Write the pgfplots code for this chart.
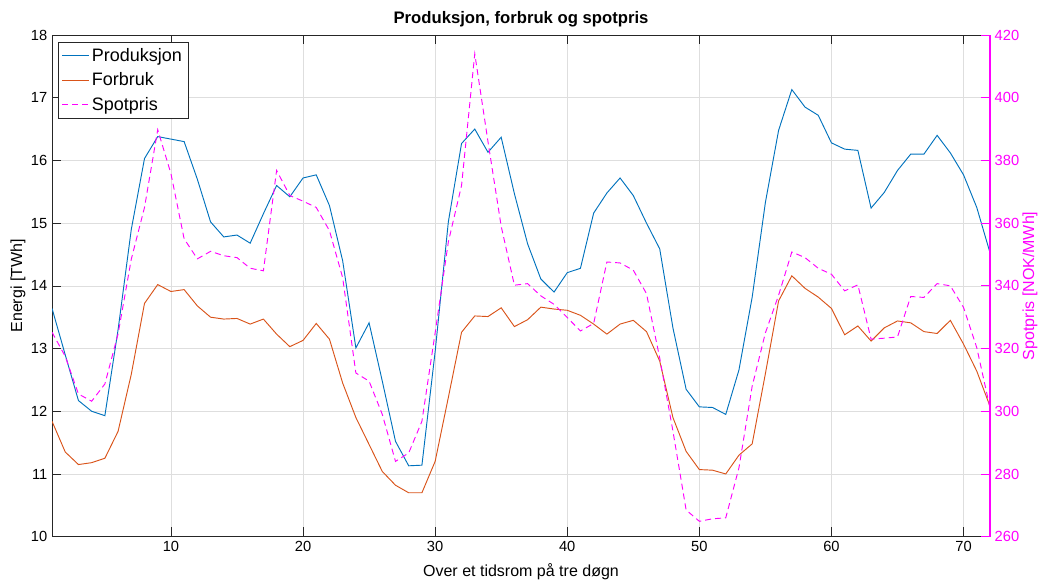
\documentclass[border=0pt]{standalone}
\usepackage{fontspec}
\setmainfont{Liberation Sans}
\usepackage{pgfplots}
\usepackage{pgfplotstable}
\pgfplotsset{compat=1.18}

\definecolor{prodblue}{rgb}{0,0.447,0.741}
\definecolor{forbrukred}{rgb}{0.850,0.325,0.098}
\definecolor{spotmag}{rgb}{1,0,1}
\definecolor{axgray}{rgb}{0.15,0.15,0.15}

% time step, production and consumption [TWh]
\pgfplotstableread{
x prod forbruk
1 13.64 11.84
2 12.90 11.35
3 12.17 11.15
4 12.00 11.18
5 11.93 11.25
6 13.30 11.68
7 14.90 12.59
8 16.03 13.72
9 16.38 14.02
10 16.34 13.91
11 16.30 13.94
12 15.70 13.68
13 15.02 13.50
14 14.78 13.47
15 14.81 13.48
16 14.68 13.39
17 15.15 13.47
18 15.60 13.23
19 15.42 13.03
20 15.72 13.13
21 15.77 13.40
22 15.28 13.15
23 14.40 12.45
24 13.01 11.90
25 13.41 11.47
26 12.48 11.04
27 11.52 10.82
28 11.13 10.70
29 11.14 10.70
30 12.95 11.20
31 15.02 12.22
32 16.27 13.26
33 16.50 13.52
34 16.13 13.51
35 16.37 13.65
36 15.47 13.35
37 14.67 13.46
38 14.11 13.66
39 13.90 13.63
40 14.21 13.61
41 14.28 13.53
42 15.16 13.39
43 15.48 13.23
44 15.72 13.39
45 15.44 13.45
46 15.00 13.27
47 14.59 12.80
48 13.33 11.90
49 12.35 11.36
50 12.07 11.07
51 12.06 11.06
52 11.95 11.00
53 12.66 11.30
54 13.82 11.48
55 15.33 12.60
56 16.48 13.76
57 17.13 14.16
58 16.85 13.96
59 16.72 13.82
60 16.28 13.64
61 16.18 13.22
62 16.16 13.36
63 15.24 13.12
64 15.49 13.33
65 15.84 13.44
66 16.10 13.41
67 16.10 13.27
68 16.40 13.24
69 16.12 13.45
70 15.77 13.07
71 15.25 12.64
72 14.53 12.08
}\energi

% spot price [NOK/MWh]
\pgfplotstableread{
x spot
1 325.2
2 317.5
3 305.5
4 303.2
5 308.7
6 324.7
7 348.5
8 365.0
9 389.8
10 375.8
11 355.0
12 348.6
13 351.0
14 349.6
15 349.0
16 345.6
17 344.8
18 376.8
19 368.8
20 367.0
21 365.0
22 357.6
23 342.6
24 312.2
25 309.6
26 299.0
27 284.0
28 286.7
29 296.8
30 325.0
31 354.0
32 372.0
33 414.0
34 386.0
35 359.0
36 340.2
37 340.7
38 336.8
39 334.1
40 329.9
41 325.6
42 328.0
43 347.6
44 347.3
45 345.0
46 337.5
47 317.0
48 293.7
49 268.5
50 264.9
51 265.7
52 266.0
53 282.0
54 308.0
55 325.0
56 337.0
57 350.8
58 349.0
59 345.6
60 343.7
61 338.4
62 340.3
63 323.0
64 323.3
65 323.7
66 336.6
67 336.3
68 340.7
69 340.0
70 333.1
71 320.3
72 301.1
}\spot

\pgfplotsset{
  felles/.style={
    scale only axis, width=703pt, height=376pt,
    xmin=1, xmax=72,
    tick align=inside, major tick length=7pt,
    /pgf/number format/assume math mode=true,
    tick label style={font=\fontsize{11}{13}\selectfont},
    label style={font=\fontsize{12}{14}\selectfont},
  },
}

\begin{document}
\begin{tikzpicture}
\begin{axis}[felles, name=hoved,
  ymin=10, ymax=18, ytick={10,...,18},
  xtick={10,20,...,70},
  ytick pos=left, xtick pos=both,
  grid=major, major grid style={black!13, line width=0.5pt},
  axis line style={axgray}, tick style={axgray, line width=0.5pt},
  title={\bfseries Produksjon, forbruk og spotpris},
  % default title style already shifts 6pt up
  title style={font=\fontsize{12.5}{15}\selectfont,
    at={(rel axis cs:0.5,1)}, anchor=center, yshift=6pt},
  xlabel={Over et tidsrom på tre døgn},
  xlabel style={at={(rel axis cs:0.5,0)}, anchor=center, yshift=-26pt},
  ylabel={Energi [TWh]},
  % label is rotated 90 degrees, so yshift moves it sideways
  ylabel style={at={(rel axis cs:0,0.5)}, anchor=center, yshift=25.5pt},
  legend style={at={(0.0065,0.986)}, anchor=north west,
    font=\fontsize{13.5}{16}\selectfont, draw=axgray,
    inner sep=2.5pt, row sep=3pt},
  legend cell align=left,
  legend image code/.code={\draw[#1] (0cm,0cm) -- (0.7cm,0cm);},
]
\addplot[prodblue, line width=0.7pt] table[x=x, y=prod] {\energi};
\addlegendentry{Produksjon}
\addplot[forbrukred, line width=0.7pt] table[x=x, y=forbruk] {\energi};
\addlegendentry{Forbruk}
\addlegendimage{spotmag, line width=0.7pt, dash pattern=on 4.5pt off 3pt}
\addlegendentry{Spotpris}
\end{axis}

\begin{axis}[felles,
  ymin=260, ymax=420, ytick={260,280,...,420},
  axis y line*=right, axis x line=none,
  y axis line style={spotmag, line width=0.8pt},
  ytick style={spotmag, line width=0.5pt},
  yticklabel style={spotmag},
  ylabel={Spotpris [NOK/MWh]},
  ylabel style={spotmag, at={(rel axis cs:1,0.5)}, anchor=center, yshift=-30pt},
]
\addplot[spotmag, line width=0.7pt, dash pattern=on 4.5pt off 3pt] table[x=x, y=spot] {\spot};
\end{axis}

\pgfresetboundingbox
\path[use as bounding box] ([shift={(-39pt,-33pt)}]hoved.south west) rectangle ([shift={(39.75pt,26.25pt)}]hoved.north east);
\end{tikzpicture}
\end{document}
